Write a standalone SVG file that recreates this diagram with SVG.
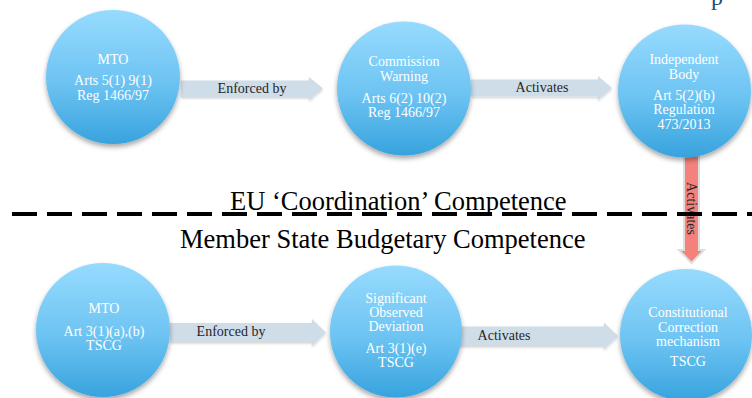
<svg xmlns="http://www.w3.org/2000/svg" width="752" height="398" viewBox="0 0 752 398">
<defs>
<linearGradient id="blue" x1="0" y1="0" x2="0" y2="1">
<stop offset="0" stop-color="#97dbfe"/>
<stop offset="0.55" stop-color="#6cc3f2"/>
<stop offset="1" stop-color="#38a3de"/>
</linearGradient>
<filter id="sh" x="-20%" y="-20%" width="140%" height="150%">
<feDropShadow dx="0" dy="3" stdDeviation="2.5" flood-color="#000" flood-opacity="0.35"/>
</filter>
<filter id="sh2" x="-10%" y="-30%" width="120%" height="170%">
<feDropShadow dx="0" dy="1.5" stdDeviation="1.2" flood-color="#000" flood-opacity="0.18"/>
</filter>
</defs>
<style>
.node circle{fill:url(#blue);filter:url(#sh);}
.nt{font-family:"Liberation Serif","Times New Roman",serif;font-size:14px;fill:#ffffff;text-anchor:middle;}
.arr{fill:#cfdde9;filter:url(#sh2);}
.lbl{font-family:"Liberation Serif","Times New Roman",serif;font-size:14px;fill:#262626;text-anchor:middle;}
.red{fill:#f4817b;stroke:#dedede;stroke-width:2;}
.title{font-family:"Liberation Serif","Times New Roman",serif;font-size:26.5px;fill:#000;}
</style>
<rect width="752" height="398" fill="#ffffff"/>
<text x="711" y="5" font-family="Liberation Serif, serif" font-size="24" fill="#1f4e79">p</text>

<g id="connectors">
<g id="c1"><path class="arr" d="M181,80.5 H309 V77 L323,88.5 L309,100.5 V97 H181 Z"/><text class="lbl" x="252" y="93">Enforced by</text></g>
<g id="c2"><path class="arr" d="M471,79.5 H598 V76 L612,88 L598,100 V96.5 H471 Z"/><text class="lbl" x="542" y="92">Activates</text></g>
<g id="c3"><path class="red" d="M684,152 H699 V250 H704 L691.5,263 L679,250 H684 Z"/><text class="lbl" transform="translate(691.5,208.5) rotate(90)" x="0" y="5">Activates</text></g>
<g id="c4"><path class="arr" d="M170,323 H312 V319 L326,332.5 L312,346 V342 H170 Z"/><text class="lbl" x="231" y="336">Enforced by</text></g>
<g id="c5"><path class="arr" d="M457,326.5 H604 V322.5 L618,336 L604,349.5 V346 H457 Z"/><text class="lbl" x="504" y="340">Activates</text></g>
</g>

<g id="divider">
<line x1="12" y1="214" x2="752" y2="214" stroke="#000" stroke-width="4" stroke-dasharray="25 10"/>
<text class="title" x="230" y="210">EU ‘Coordination’ Competence</text>
<text class="title" x="180" y="248">Member State Budgetary Competence</text>
</g>

<g id="n1" class="node"><circle cx="113" cy="77" r="67"/>
<text class="nt" x="113" y="64">MTO</text>
<text class="nt" x="113" y="85">Arts 5(1) 9(1)</text>
<text class="nt" x="113" y="99.5">Reg 1466/97</text></g>

<g id="n2" class="node"><circle cx="404" cy="88.5" r="67"/>
<text class="nt" x="404" y="66">Commission</text>
<text class="nt" x="404" y="81">Warning</text>
<text class="nt" x="404" y="103">Arts 6(2) 10(2)</text>
<text class="nt" x="404" y="117">Reg 1466/97</text></g>

<g id="n3" class="node"><circle cx="684.5" cy="91" r="66.5"/>
<text class="nt" x="684" y="64">Independent</text>
<text class="nt" x="684" y="79">Body</text>
<text class="nt" x="684" y="100">Art 5(2)(b)</text>
<text class="nt" x="684" y="114">Regulation</text>
<text class="nt" x="684" y="128.5">473/2013</text></g>

<g id="n4" class="node"><circle cx="103" cy="330" r="67"/>
<text class="nt" x="104" y="313">MTO</text>
<text class="nt" x="104" y="335.5">Art 3(1)(a),(b)</text>
<text class="nt" x="104" y="349.5">TSCG</text></g>

<g id="n5" class="node"><circle cx="396" cy="331.5" r="66"/>
<text class="nt" x="396" y="302.5">Significant</text>
<text class="nt" x="396" y="316.5">Observed</text>
<text class="nt" x="396" y="331">Deviation</text>
<text class="nt" x="396" y="352.5">Art 3(1)(e)</text>
<text class="nt" x="396" y="367">TSCG</text></g>

<g id="n6" class="node"><circle cx="686" cy="335" r="66"/>
<text class="nt" x="688" y="317">Constitutional</text>
<text class="nt" x="688" y="331.5">Correction</text>
<text class="nt" x="688" y="346">mechanism</text>
<text class="nt" x="688" y="366">TSCG</text></g>
</svg>
